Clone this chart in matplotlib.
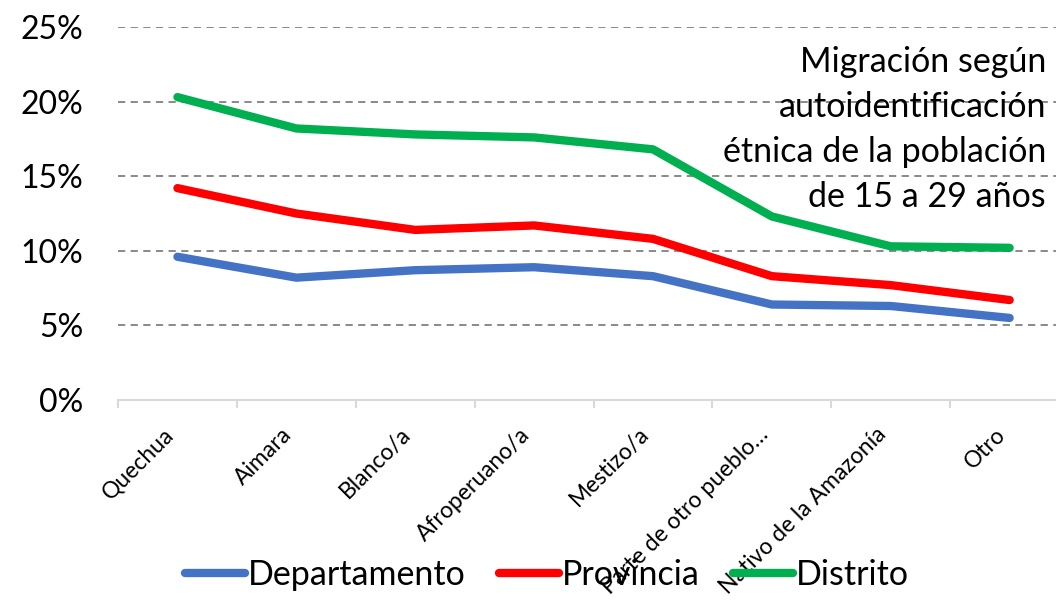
import matplotlib
matplotlib.use("Agg")
import matplotlib.pyplot as plt
from matplotlib.ticker import PercentFormatter, FixedLocator

plt.rcParams['font.family'] = ['Lato', 'DejaVu Sans']

categorias = ["Quechua", "Aimara", "Blanco/a", "Afroperuano/a", "Mestizo/a",
              "Parte de otro pueblo…", "Nativo de la Amazonía", "Otro"]
departamento = [9.6, 8.2, 8.7, 8.9, 8.3, 6.4, 6.3, 5.5]
provincia = [14.2, 12.5, 11.4, 11.7, 10.8, 8.3, 7.7, 6.7]
distrito = [20.3, 18.2, 17.8, 17.6, 16.8, 12.3, 10.3, 10.2]

fig = plt.figure(figsize=(10.56, 6.06), dpi=100)
ax = fig.add_axes([118 / 1056, 206 / 606, 1 - 118 / 1056, 373 / 606])

x = range(len(categorias))
ax.plot(x, [v / 100 for v in departamento], color="#4472C4", lw=6,
        solid_capstyle="round", solid_joinstyle="round", label="Departamento")
ax.plot(x, [v / 100 for v in provincia], color="#FF0000", lw=6,
        solid_capstyle="round", solid_joinstyle="round", label="Provincia")
ax.plot(x, [v / 100 for v in distrito], color="#00B050", lw=6,
        solid_capstyle="round", solid_joinstyle="round", label="Distrito")

ax.set_xlim(-0.5, 7.39)
ax.set_ylim(0, 0.25)
ax.set_yticks([0, 0.05, 0.10, 0.15, 0.20, 0.25])
ax.yaxis.set_major_formatter(PercentFormatter(1.0, decimals=0))
ax.grid(axis="y", color="#808080", linestyle=(0, (4, 3)), lw=1.3)
ax.set_axisbelow(True)

for s in ["top", "right", "left"]:
    ax.spines[s].set_visible(False)
ax.spines["bottom"].set_color("#D9D9D9")
ax.spines["bottom"].set_linewidth(1.5)

ax.set_xticks(list(x))
ax.set_xticklabels(categorias, rotation=45, ha="right", fontsize=16.5)
ax.xaxis.set_minor_locator(FixedLocator([i - 0.5 for i in range(len(categorias) + 1)]))
ax.tick_params(axis="x", which="major", length=0, pad=17)
ax.tick_params(axis="x", which="minor", length=6, color="#D9D9D9", width=1.5)
ax.tick_params(axis="y", length=0, pad=25, labelsize=23)

fig.text(1046 / 1056, 0.787,
         "Migración según\nautoidentificación\nétnica de la población\nde 15 a 29 años",
         ha="right", va="center", fontsize=24.5, linespacing=1.5)

fig.legend(loc="center", bbox_to_anchor=(0.518, 0.051), ncol=3, frameon=False,
           fontsize=24.5, handlelength=1.75, handletextpad=0.08, columnspacing=1.0)

fig.savefig("out.png", dpi=100)
